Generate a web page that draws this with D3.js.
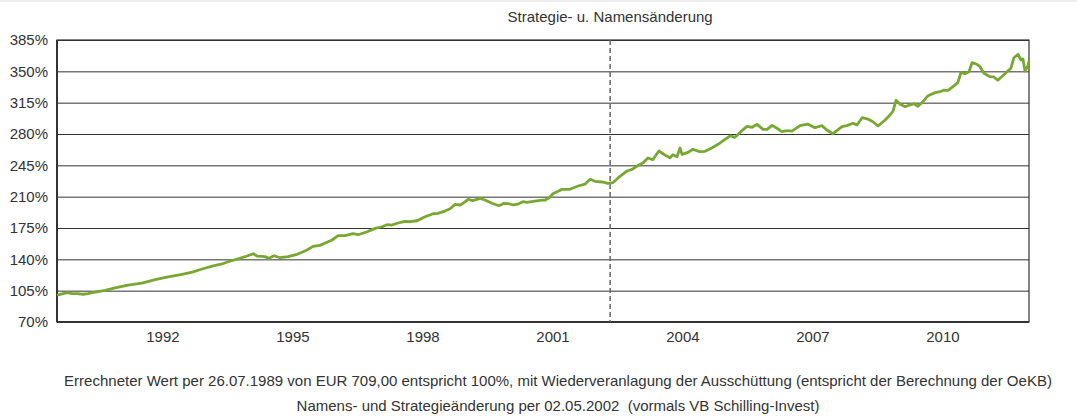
<!DOCTYPE html>
<html>
<head>
<meta charset="utf-8">
<script src="https://cdn.jsdelivr.net/npm/d3@7"></script>
<style>
  body { margin: 0; background: #fff; }
  svg { display: block; font-family: "Liberation Sans", Arial, sans-serif; }
</style>
</head>
<body>
<svg id="chart" width="1077" height="418"></svg>
<script>
// fund performance in % (100% = 26.07.1989)
var dates = [
  "1989-07-26","1989-09-08","1989-10-19","1989-12-01","1990-01-12","1990-03-02","1990-04-13","1990-05-17",
  "1990-07-07","1990-09-05","1990-11-28","1991-03-16","1991-07-12","1991-11-01","1992-02-18","1992-06-15",
  "1992-09-08","1992-12-01","1993-02-24","1993-05-17","1993-07-07","1993-09-22","1993-12-15","1994-02-05",
  "1994-03-08","1994-05-14","1994-06-17","1994-07-29","1994-09-19","1994-11-25","1995-02-10","1995-04-01",
  "1995-05-03","1995-06-23","1995-08-21","1995-10-19","1995-12-01","1996-01-21","1996-03-19","1996-05-25",
  "1996-07-07","1996-09-22","1996-11-28","1997-01-26","1997-03-08","1997-04-19","1997-06-09","1997-08-07",
  "1997-09-19","1997-11-17","1998-01-23","1998-04-01","1998-05-11","1998-07-10","1998-08-21","1998-10-03",
  "1998-11-14","1998-12-09","1999-01-21","1999-03-02","1999-05-01","1999-06-12","1999-08-10","1999-10-08",
  "1999-11-20","1999-12-23","2000-02-05","2000-03-16","2000-04-27","2000-06-01","2000-07-21","2000-09-19",
  "2000-11-01","2000-12-03","2001-01-07","2001-02-18","2001-03-22","2001-05-28","2001-08-05","2001-10-03",
  "2001-11-14","2001-12-26","2002-02-24","2002-04-13","2002-05-25","2002-07-24","2002-09-22","2002-11-03",
  "2002-12-23","2003-02-05","2003-03-16","2003-04-27","2003-06-17","2003-08-07","2003-09-19","2003-10-13",
  "2003-11-17","2003-12-12","2003-12-29","2004-02-18","2004-03-30","2004-05-28","2004-07-10","2004-09-08",
  "2004-10-28","2004-12-26","2005-02-07","2005-03-19","2005-05-17","2005-06-29","2005-08-10","2005-09-22",
  "2005-11-11","2005-12-15","2006-01-26","2006-03-08","2006-04-19","2006-06-01","2006-07-12","2006-09-19",
  "2006-11-25","2007-01-23","2007-03-22","2007-05-03","2007-06-23","2007-09-08","2007-10-19","2007-12-09",
  "2008-01-12","2008-02-24","2008-04-13","2008-05-25","2008-07-07","2008-09-05","2008-10-16","2008-11-11",
  "2008-12-06","2009-01-10","2009-02-21","2009-04-03","2009-05-06","2009-06-09","2009-07-21","2009-09-02",
  "2009-11-01","2009-12-12","2010-01-15","2010-02-18","2010-04-16","2010-05-11","2010-06-06","2010-07-10",
  "2010-08-13","2010-09-08","2010-10-19","2010-11-14","2010-12-17","2011-02-07","2011-03-11","2011-04-13",
  "2011-05-25","2011-07-07","2011-08-01","2011-08-27","2011-10-01","2011-10-25","2011-11-11","2011-11-28",
  "2011-12-23","2012-01-01"
];
var values = [
  100, 101.5, 102.7, 101.8, 101.6, 101, 101.8, 102.7,
  104, 105.4, 108, 111.3, 113.5, 117.3, 120.3, 123.3,
  125.8, 129.2, 132.5, 134.8, 137.3, 140.3, 143.7, 146.3,
  143.7, 143, 141.1, 144, 141.8, 143, 145.6, 148.5,
  150.4, 154.5, 155.6, 159, 161.6, 166.4, 166.4, 168.6,
  167.5, 170.8, 174.6, 176.4, 178.7, 178.3, 180.6, 182.5,
  182, 183.1, 187.6, 190.9, 191.4, 193.9, 196.5, 201.4,
  200.7, 202.6, 207, 205.5, 208.1, 206.3, 202.6, 199.9,
  202.6, 202.2, 200.7, 201.8, 204.4, 203.7, 204.8, 205.9,
  206.3, 208.8, 213.5, 216, 218.2, 218.2, 221.9, 224.1,
  229.4, 227.2, 226.4, 224.9, 225.6, 232.8, 238.7, 240.5,
  244.8, 247.9, 253.2, 251.3, 261, 256.5, 253.5, 256.9,
  254.7, 264.4, 257.3, 259.5, 262.9, 260.2, 260.6, 264.6,
  268.5, 274.1, 278, 276.3, 283.7, 288.5, 287.5, 290.8,
  285.2, 285.2, 289.6, 286.4, 282.6, 283.7, 283.3, 289.3,
  291, 287, 289.3, 284.5, 280.3, 288.2, 289.3, 292,
  290, 298.2, 296.7, 293.7, 288.9, 295.6, 301.2, 305.7,
  317.6, 313.2, 310.5, 312.4, 313.8, 310.9, 316.1, 322.8,
  326.2, 327.2, 329.1, 328.7, 334.7, 337.3, 348.9, 347.4,
  349.6, 359.7, 357.9, 355.2, 347.8, 344, 343.7, 340,
  345.1, 350.4, 353.4, 365.2, 369, 362.7, 363.8, 350.4,
  356.3, 361.5
];
var yTicks = [70, 105, 140, 175, 210, 245, 280, 315, 350, 385];
var xTickYears = [1992, 1995, 1998, 2001, 2004, 2007, 2010];
var changeDate = "2002-05-02";
var titleText = "Strategie- u. Namensänderung";
var notes = [
  "Errechneter Wert per 26.07.1989 von EUR 709,00 entspricht 100%, mit Wiederveranlagung der Ausschüttung (entspricht der Berechnung der OeKB)",
  "Namens- und Strategieänderung per 02.05.2002  (vormals VB Schilling-Invest)"
];

var parse = d3.timeParse("%Y-%m-%d");
var data = dates.map(function(d, i) { return {date: parse(d), value: values[i]}; });

var margin = {top: 40, right: 48, bottom: 96, left: 57},
    width = 1077 - margin.left - margin.right,
    height = 418 - margin.top - margin.bottom;

var fontSize = "15px";

var svg = d3.select("#chart");
svg.append("rect").attr("width", 1077).attr("height", 2).attr("fill", "#eeeeee");

var g = svg.append("g")
    .attr("transform", "translate(" + margin.left + "," + margin.top + ")");

var x = d3.scaleTime()
    .domain([parse("1989-07-26"), parse("2012-01-01")])
    .range([0, width]);
var y = d3.scaleLinear()
    .domain([70, 385])
    .range([height, 0]);

// horizontal grid
g.append("g")
    .attr("class", "grid")
    .call(d3.axisLeft(y).tickValues(yTicks).tickSize(-width).tickFormat(""))
    .call(function(s) {
      s.select(".domain").remove();
      s.selectAll("line").attr("stroke", "#333").attr("stroke-width", 1);
    });

// y labels
g.append("g")
    .call(d3.axisLeft(y).tickValues(yTicks).tickSize(0).tickPadding(9)
      .tickFormat(function(d) { return d + "%"; }))
    .call(function(s) {
      s.select(".domain").remove();
      s.selectAll("text").attr("fill", "#333").style("font-size", fontSize)
        .style("font-family", "'Liberation Sans', Arial, sans-serif");
    });

// x labels
g.append("g")
    .attr("transform", "translate(0," + height + ")")
    .call(d3.axisBottom(x)
      .tickValues(xTickYears.map(function(yr) { return new Date(yr, 0, 1); }))
      .tickSize(0).tickPadding(9)
      .tickFormat(d3.timeFormat("%Y")))
    .call(function(s) {
      s.select(".domain").remove();
      s.selectAll("text").attr("fill", "#333").style("font-size", fontSize)
        .style("font-family", "'Liberation Sans', Arial, sans-serif");
    });

// frame
g.append("rect")
    .attr("width", width).attr("height", height)
    .attr("fill", "none").attr("stroke", "#333").attr("stroke-width", 1.2);
g.append("line").attr("x1", 0).attr("x2", 0).attr("y1", 0).attr("y2", height)
    .attr("stroke", "#333").attr("stroke-width", 2);
g.append("line").attr("x1", 0).attr("x2", width).attr("y1", height).attr("y2", height)
    .attr("stroke", "#333").attr("stroke-width", 2);

// strategy change marker
var cx = x(parse(changeDate));
g.append("line")
    .attr("x1", cx).attr("x2", cx).attr("y1", 0).attr("y2", height)
    .attr("stroke", "#666").attr("stroke-width", 1.5)
    .attr("stroke-dasharray", "5,3");

svg.append("text")
    .attr("x", margin.left + cx).attr("y", 22)
    .attr("text-anchor", "middle")
    .attr("fill", "#333").style("font-size", fontSize)
    .text(titleText);

// performance line
g.append("path")
    .datum(data)
    .attr("fill", "none")
    .attr("stroke", "#78a832")
    .attr("stroke-width", 2.8)
    .attr("stroke-linejoin", "round")
    .attr("d", d3.line().x(function(d) { return x(d.date); }).y(function(d) { return y(d.value); }));

// footnotes
svg.selectAll("text.note")
    .data(notes)
    .enter()
    .append("text")
    .attr("class", "note")
    .attr("x", 558)
    .attr("y", function(d, i) { return 386 + i * 25; })
    .attr("text-anchor", "middle")
    .attr("fill", "#333").style("font-size", fontSize)
    .style("white-space", "pre")
    .text(function(d) { return d; });
</script>
</body>
</html>
